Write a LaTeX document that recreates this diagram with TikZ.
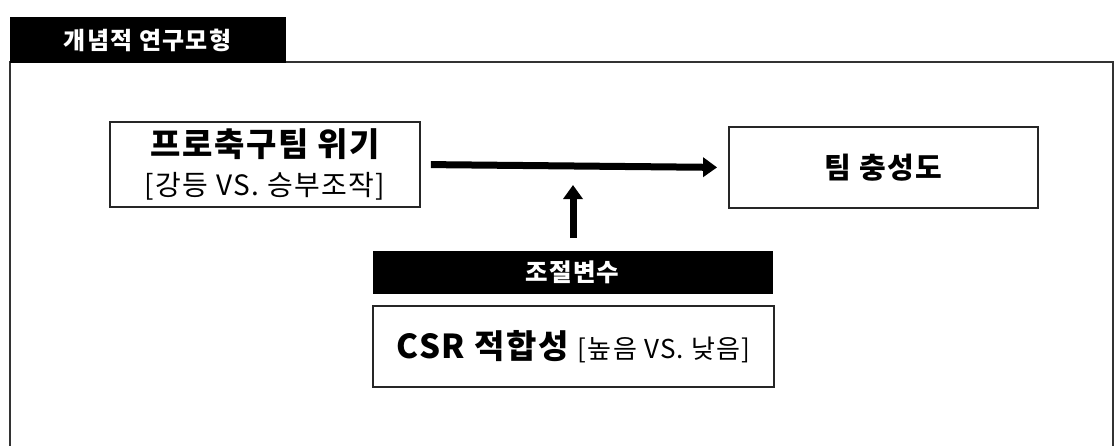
\documentclass[tikz,border=0pt]{standalone}
\usepackage{fontspec}
\setmainfont{Noto Sans CJK KR}
\newfontfamily\krs[LetterSpace=5]{Noto Sans CJK KR}
\usetikzlibrary{arrows.meta}
\tikzset{
  box/.style={draw=black!85, line width=1.8pt, rectangle, inner sep=0pt, fill=white},
  blackbar/.style={fill=black, draw=black, rectangle, inner sep=0pt, text=white},
  frameline/.style={draw=black!80, line width=1.6pt},
  bigarrow/.style={line width=7pt, -{Triangle[width=19pt,length=14pt]}},
}
\begin{document}
\begin{tikzpicture}[x=1pt,y=-1pt]
\useasboundingbox (0,0) rectangle (1117,445);
% outer frame
\coordinate (fbl) at (10,446);
\coordinate (ftl) at (10,62);
\coordinate (ftr) at (1113,62);
\coordinate (fbr) at (1113,446);
\draw[frameline] (fbl) -- (ftl) -- (ftr) -- (fbr);
% tab
\node[blackbar, minimum width=275pt, minimum height=45pt,
      font=\krs\fontsize{24}{28}\selectfont\bfseries] (tab) at (147.5,40) {개념적 연구모형};
% boxes
\node[box, minimum width=310pt, minimum height=85pt, align=center,
      font=\krs\fontsize{28}{39}\selectfont] (crisis) at (265,164.5)
  {{\fontsize{33}{39}\selectfont\bfseries 프로축구팀 위기}\\
   {\fontsize{28}{39}\selectfont [강등 VS. 승부조작]}};
\node[box, minimum width=309pt, minimum height=81pt,
      font=\krs\fontsize{29}{36}\selectfont\bfseries] (loyal) at (883.5,167.5) {팀 충성도};
\node[blackbar, minimum width=399pt, minimum height=42pt,
      font=\krs\fontsize{24.5}{28}\selectfont\bfseries] (mod) at (572.5,272) {조절변수};
\node[box, minimum width=401pt, minimum height=81pt, font=\krs] (csr) at (573.5,346.5)
  {{\fontsize{33}{36}\selectfont\bfseries CSR 적합성}\hspace{9pt}{\fontsize{26}{30}\selectfont [높음 VS. 낮음]}};
% arrows
\coordinate (vtip) at (573,185);
\coordinate (vstart) at (573,238);
\draw[bigarrow, shorten <=10pt, shorten >=11pt] (crisis.east) -- (loyal.west);
\draw[bigarrow] (vstart) -- (vtip);
\end{tikzpicture}
\end{document}
